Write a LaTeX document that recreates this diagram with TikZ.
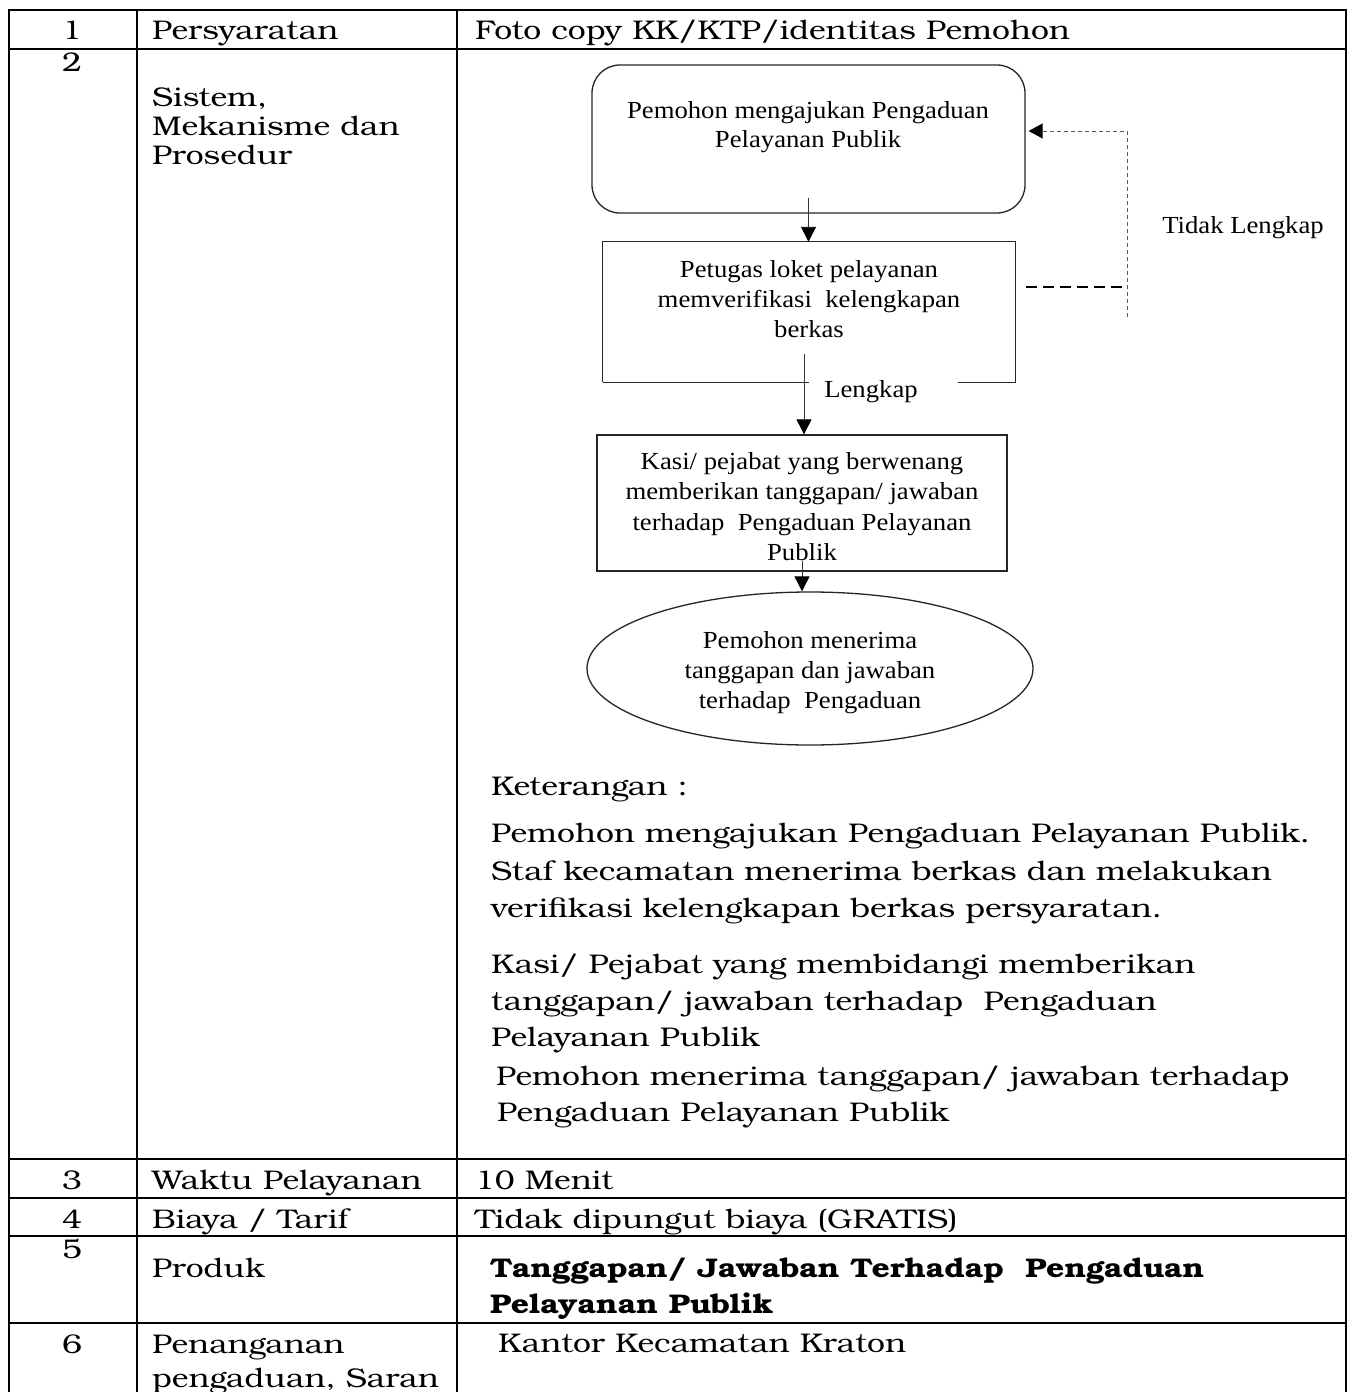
\documentclass[tikz,border=0pt]{standalone}
\usepackage{fontspec}
\setmainfont{texgyrebonum}[Extension=.otf,UprightFont=*-regular,BoldFont=*-bold,FakeStretch=1.18]
\newfontfamily\flowfont{Liberation Serif}[FakeStretch=1.09]
\usetikzlibrary{arrows.meta,shapes.geometric}

\begin{document}
\begin{tikzpicture}[x=1pt,y=-1pt,
  grid/.style={line width=2pt,line cap=rect},
  cell/.style={anchor=base west,inner sep=0pt,font=\fontsize{27}{32}\selectfont},
  num/.style={anchor=base,inner sep=0pt,font=\fontsize{27}{32}\selectfont},
  boldcell/.style={cell,font=\fontsize{27}{32}\selectfont\bfseries},
  flowtxt/.style={anchor=base,inner sep=0pt,font=\flowfont\fontsize{24.5}{30}\selectfont},
  shapeline/.style={draw=black!85,line width=1.3pt,inner sep=0pt},
  link/.style={-{Triangle[width=15pt,length=15pt,color=black]},line width=0.9pt,draw=black!80},
  backlink/.style={-{Triangle[width=15pt,length=14pt,color=black]},line width=0.9pt,draw=black!65,dash pattern=on 4pt off 3pt},
  backstub/.style={line width=1.6pt,draw=black,dash pattern=on 11pt off 6pt},
]
\useasboundingbox (0,0) rectangle (1354,1392);
\fill[white] (0,0) rectangle (1354,1392);

% ---------- table grid ----------
\foreach \yy in {10,49,1159,1198,1236,1323}
  \draw[grid] (9,\yy) -- (1346,\yy);
\foreach \xx in {9,137,457,1346}
  \draw[grid] (\xx,10) -- (\xx,1395);

% ---------- row 1 ----------
\node[num]  (n1) at (72,39)   {1};
\node[cell] (h1) at (152,39)  {Persyaratan};
\node[cell] (c1) at (475,39)  {Foto copy KK/KTP/identitas Pemohon};

% ---------- row 2 ----------
\node[num]  (n2)  at (72,71)   {2};
\node[cell] (h2a) at (152,106) {Sistem,};
\node[cell] (h2b) at (152,135) {Mekanisme dan};
\node[cell] (h2c) at (152,164) {Prosedur};

% flow chart
\node[shapeline,rounded corners=28pt,minimum width=433pt,minimum height=148pt] (req) at (808.5,139) {};
\node[flowtxt] at (808,118) {Pemohon mengajukan Pengaduan};
\node[flowtxt] at (808,147) {Pelayanan Publik};

\node[minimum width=412pt,minimum height=140pt,inner sep=0pt] (verif) at (809,312) {};
\draw[shapeline] (verif.south west) -- (verif.north west) -- (verif.north east)
  -- (verif.south east) -- ([xshift=-57pt]verif.south east);
\draw[shapeline] (verif.south west) -- ([xshift=206pt]verif.south west);
\node[flowtxt] at (809,277) {Petugas loket pelayanan};
\node[flowtxt] at (809,307) {memverifikasi\ \ kelengkapan};
\node[flowtxt] at (809,337) {berkas};

\node[shapeline,minimum width=410pt,minimum height=136pt] (resp) at (802,503) {};
\node[flowtxt] at (802,469) {Kasi/ pejabat yang berwenang};
\node[flowtxt] at (802,499) {memberikan tanggapan/ jawaban};
\node[flowtxt] at (802,530) {terhadap\ \ Pengaduan Pelayanan};
\node[flowtxt] at (802,560) {Publik};

\node[shapeline,ellipse,minimum width=446pt,minimum height=153pt] (done) at (810,668.5) {};
\node[flowtxt] at (810,648) {Pemohon menerima};
\node[flowtxt] at (810,678) {tanggapan dan jawaban};
\node[flowtxt] at (810,708) {terhadap\ \ Pengaduan};

\node[flowtxt] (ok)  at (871,397)  {Lengkap};
\node[flowtxt] (nok) at (1243,233) {Tidak Lengkap};

% connectors
\draw[link] ([yshift=16pt]req.south) -- (req.south |- verif.north);
\coordinate (a2) at (804,354);
\draw[link] (a2) -- (a2 |- resp.north);
\draw[link] ([yshift=11pt]resp.south) -- (resp.south |- done.north);

\coordinate (fbA) at (1026,287);
\coordinate (fbB) at (1126,287);
\coordinate (fbC) at (1127,317);
\coordinate (fbD) at (1127,131);
\draw[backstub] (fbA) -- (fbB);
\draw[backlink] (fbC) -- (fbD) -- ([xshift=3pt]req.east |- fbD);

% notes
\node[cell] (k0) at (491,795)  {Keterangan :};
\node[cell] (k1) at (491,842)  {Pemohon mengajukan Pengaduan Pelayanan Publik.};
\node[cell] (k2) at (491,880)  {Staf kecamatan menerima berkas dan melakukan};
\node[cell] (k3) at (491,917)  {verifikasi kelengkapan berkas persyaratan.};
\node[cell] (k4) at (491,973)  {Kasi/ Pejabat yang membidangi memberikan};
\node[cell] (k5) at (491,1010) {tanggapan/ jawaban terhadap\ \ Pengaduan};
\node[cell] (k6) at (491,1046) {Pelayanan Publik};
\node[cell] (k7) at (496,1085) {Pemohon menerima tanggapan/ jawaban terhadap};
\node[cell] (k8) at (497,1121) {Pengaduan Pelayanan Publik};

% ---------- rows 3 to 6 ----------
\node[num]  (n3) at (72,1189)  {3};
\node[cell] (h3) at (152,1189) {Waktu Pelayanan};
\node[cell] (c3) at (475,1189) {10 Menit};

\node[num]  (n4) at (72,1228)  {4};
\node[cell] (h4) at (152,1228) {Biaya / Tarif};
\node[cell] (c4) at (475,1228) {Tidak dipungut biaya (GRATIS)};

\node[num]  (n5) at (72,1258)  {5};
\node[cell] (h5) at (152,1277) {Produk};
\node[boldcell] (c5a) at (490,1277) {Tanggapan/ Jawaban Terhadap\ \ Pengaduan};
\node[boldcell] (c5b) at (490,1313) {Pelayanan Publik};

\node[num]  (n6)  at (72,1353)  {6};
\node[cell] (h6a) at (152,1353) {Penanganan};
\node[cell] (h6b) at (152,1387) {pengaduan, Saran};
\node[cell] (c6)  at (498,1352) {Kantor Kecamatan Kraton};
\end{tikzpicture}
\end{document}
